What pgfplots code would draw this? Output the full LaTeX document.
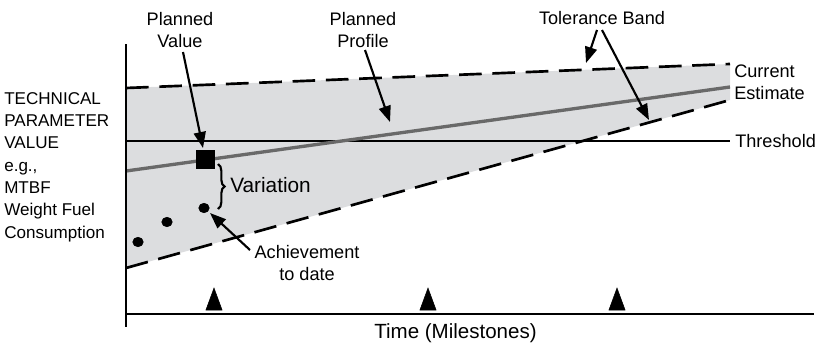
\documentclass[border=0pt]{standalone}
\usepackage{pgfplots}
\pgfplotsset{compat=1.18}
\usepackage{fontspec}
\setmainfont{Liberation Sans}
\usetikzlibrary{arrows.meta,decorations.pathreplacing}
\definecolor{band}{RGB}{220,221,223}
\definecolor{profile}{RGB}{105,105,105}
\begin{document}
\begin{tikzpicture}[
  lbl/.style={font=\fontsize{13.6}{16}\selectfont, inner sep=0pt, anchor=base},
  lft/.style={font=\fontsize{12.8}{15}\selectfont, inner sep=0pt, anchor=base west},
  arr/.style={line width=1.6pt, -{Triangle[length=12pt,width=9pt]}},
]
\begin{axis}[
  width=615pt, height=258pt, scale only axis,
  xmin=0, xmax=820, ymin=0, ymax=344,
  hide axis, clip=false,
]
% tolerance band
\addplot[fill=band, draw=none] coordinates {(126,256) (730,280) (730,244) (126,76)} -- cycle;
\addplot[line width=2pt, dash pattern=on 17pt off 8pt] coordinates {(126,256) (730,280)};
\addplot[line width=2pt, dash pattern=on 17pt off 8pt] coordinates {(126,76) (730,244)};
% threshold and planned profile
\addplot[line width=1.6pt] coordinates {(126,203) (730,203)};
\addplot[line width=2.5pt, profile] coordinates {(126,173) (730,257)};
% axes
\addplot[line width=2.2pt] coordinates {(126,300) (126,17)};
\addplot[line width=2.2pt] coordinates {(126,30) (814,30)};
% planned value, achievements, milestones
\addplot[only marks, mark=square*, mark size=6.8pt] coordinates {(205,184.5)};
\addplot[only marks, mark=*, mark size=3.6pt, mark options={xscale=1.1}] coordinates {(138,102) (167,122) (204,136)};
\addplot[only marks, mark=triangle*, mark size=7pt, mark options={yscale=1.57}] coordinates {(214,41.3) (428,41.3) (617,41.3)};
% brace
\draw[line width=1.6pt, decorate, decoration={brace, amplitude=5pt}] (axis cs:218,180) -- (axis cs:218,135);
% arrows
\draw[arr] (axis cs:183,292) -- (axis cs:203,196);
\draw[arr] (axis cs:365,294) -- (axis cs:390,222);
\draw[arr] (axis cs:597,314) -- (axis cs:586,281);
\draw[arr] (axis cs:602,314) -- (axis cs:649,224);
\draw[arr] (axis cs:250,94) -- (axis cs:210,131);
% labels
\node[lbl] at (axis cs:180,319) {Planned};
\node[lbl] at (axis cs:180,297) {Value};
\node[lbl] at (axis cs:363,319) {Planned};
\node[lbl] at (axis cs:363,297) {Profile};
\node[lbl] at (axis cs:602,320) {Tolerance Band};
\node[lbl, anchor=base west] at (axis cs:734,267) {Current};
\node[lbl, anchor=base west] at (axis cs:734,245) {Estimate};
\node[lbl, anchor=base west] at (axis cs:735,197) {Threshold};
\node[lbl] at (axis cs:307,86) {Achievement};
\node[lbl] at (axis cs:307,64) {to date};
\node[lbl, anchor=base west, font=\fontsize{15.6}{18}\selectfont] at (axis cs:230,152) {Variation};
\node[lbl, font=\fontsize{15.4}{18}\selectfont] at (axis cs:455.5,5.5) {Time (Milestones)};
\node[lft] at (axis cs:4,240) {TECHNICAL};
\node[lft] at (axis cs:4,217.7) {PARAMETER};
\node[lft] at (axis cs:4,195.4) {VALUE};
\node[lft] at (axis cs:4,173) {e.g.,};
\node[lft] at (axis cs:4,151) {MTBF};
\node[lft] at (axis cs:4,128.5) {Weight Fuel};
\node[lft] at (axis cs:4,106) {Consumption};
\end{axis}
\path (current axis.south west) rectangle (current axis.north east);
\end{tikzpicture}
\end{document}
